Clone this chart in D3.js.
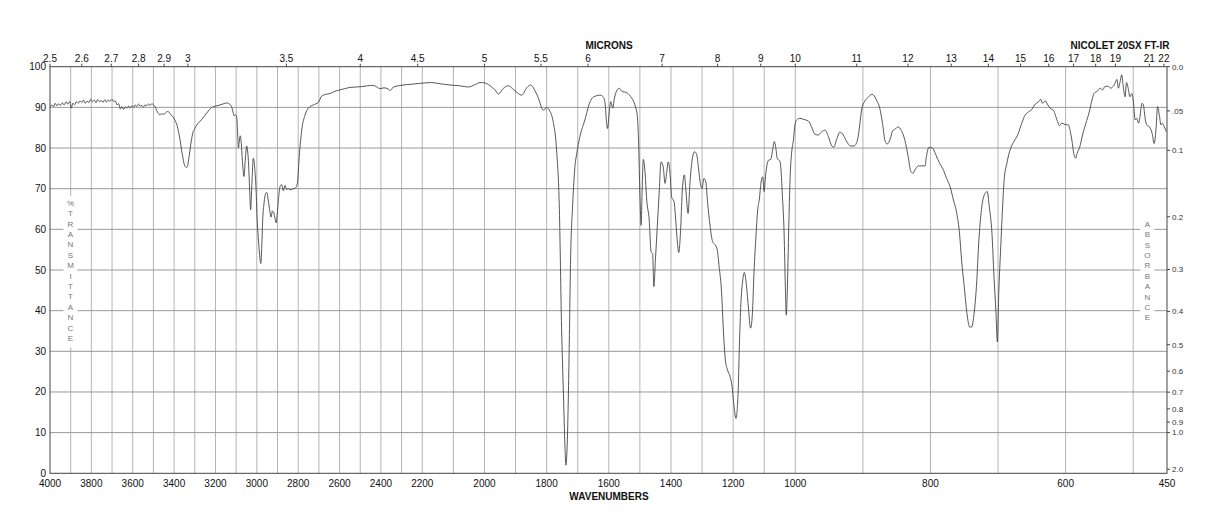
<!DOCTYPE html>
<html>
<head>
<meta charset="utf-8">
<script src="https://d3js.org/d3.v7.min.js"></script>
<style>
  body { margin: 0; background: #fff; }
  text { font-family: "Liberation Sans", Arial, sans-serif; fill: #111; }
</style>
</head>
<body>
<div id="chart"></div>
<script>
// spectrum (wavenumber cm-1 / %T)
var wavenumbers = [4000,3990,3982,3975,3966,3958,3950,3940,3932,3922,3914,3905,3897,3890,3880,3872,3863,3855,3846,3838,
  3830,3821,3812,3803,3795,3786,3778,3770,3761,3752,3744,3735,3726,3718,3710,3700,3692,3684,3676,3668,
  3660,3652,3644,3636,3628,3620,3612,3604,3596,3588,3580,3572,3564,3556,3548,3540,3532,3524,3516,3508,
  3500,3492,3484,3476,3468,3460,3450,3440,3432,3424,3416,3404,3394,3387,3378,3371,3364,3358,3352,3347,
  3340,3336,3330,3323,3316,3310,3300,3291,3280,3267,3255,3242,3230,3218,3200,3178,3160,3145,3138,3130,
  3122,3115,3109,3103,3097,3093,3089,3085,3080,3075,3070,3062,3056,3049,3045,3041,3035,3030,3024,3017,
  3010,3004,2998,2993,2987,2981,2976,2972,2965,2958,2952,2946,2940,2931,2925,2920,2913,2907,2901,2896,
  2888,2880,2872,2864,2856,2848,2840,2828,2815,2804,2795,2783,2767,2751,2727,2703,2686,2666,2646,2620,
  2598,2575,2549,2520,2493,2465,2437,2420,2405,2385,2364,2356,2348,2340,2315,2292,2250,2211,2170,2143,
  2111,2079,2052,2030,2014,1998,1977,1966,1955,1939,1923,1907,1891,1880,1864,1851,1837,1827,1811,1800,
  1789,1779,1768,1759,1752,1746,1741,1738,1734,1728,1723,1716,1709,1703,1693,1677,1660,1650,1628,1618,
  1612,1607,1604,1599,1594,1587,1583,1575,1566,1559,1542,1526,1516,1508,1504,1500,1496,1493,1489,1484,
  1478,1470,1464,1459,1455,1450,1444,1438,1432,1425,1419,1414,1409,1403,1398,1390,1384,1380,1375,1369,
  1364,1357,1352,1345,1339,1332,1324,1317,1312,1307,1300,1294,1288,1282,1274,1266,1257,1251,1245,1237,
  1232,1225,1218,1210,1204,1197,1191,1184,1180,1175,1169,1164,1159,1151,1144,1138,1133,1126,1121,1116,
  1110,1105,1100,1097,1092,1086,1079,1073,1068,1062,1058,1051,1046,1042,1036,1032,1029,1026,1021,1017,
  1012,1006,1001,998,993,987,981,976,971,966,961,956,951,946,943,939,934,929,924,918,
  913,908,905,902,897,892,887,884,880,875,871,867,864,860,856,851,848,843,838,833,
  829,826,823,818,811,808,806,802,797,792,786,782,776,771,766,761,757,754,750,746,
  742,739,736,732,728,724,719,716,713,709,706,703,701,699,696,693,691,687,683,680,
  675,670,665,660,655,650,645,640,637,634,630,627,623,618,616,612,609,606,601,596,
  593,590,588,585,583,579,575,570,565,561,558,553,549,545,542,537,533,530,527,524,
  522,519,517,515,512,510,507,505,502,500,497,495,492,490,487,485,482,480,476,472,
  469,466,464,461,459,457,454,451];
var transmittance = [90.0,90.6,90.2,91.0,90.4,90.9,90.5,91.1,90.6,91.4,90.8,91.5,89.8,91.0,90.7,91.4,91.0,91.6,91.2,91.8,
  91.0,91.5,91.2,92.0,91.4,91.8,91.1,91.9,91.4,91.7,91.2,91.9,91.3,91.8,91.5,92.0,91.4,91.6,90.6,90.9,
  89.6,90.2,89.5,90.1,89.8,90.3,89.9,90.4,90.0,90.6,90.2,90.8,90.3,90.5,90.1,90.6,90.4,90.8,90.5,90.9,
  90.6,90.2,89.2,88.5,88.2,88.4,88.3,88.7,89.0,88.8,88.2,87.6,86.6,85.8,83.8,82.0,79.5,77.8,76.2,75.5,
  75.2,75.4,77.0,79.5,82.0,83.6,84.8,85.6,86.3,87.0,87.8,88.6,89.4,90.0,90.3,90.6,90.9,91.1,91.0,90.7,
  90.2,88.8,87.9,88.2,87.5,84.0,80.0,81.5,83.0,81.0,77.0,73.0,77.0,80.5,79.5,77.0,70.0,64.8,71.0,77.5,
  75.0,70.0,62.0,58.0,54.0,51.6,56.0,62.0,66.5,68.8,69.1,67.5,65.5,63.0,64.5,64.3,63.0,61.6,64.0,67.0,
  70.5,71.0,69.5,70.8,69.8,70.0,69.7,69.9,70.1,71.3,77.9,84.4,88.1,89.8,90.6,91.2,92.8,93.2,93.4,94.0,
  94.3,94.6,94.9,95.0,95.1,95.3,95.4,95.0,94.6,94.8,94.5,94.1,94.5,95.0,95.3,95.5,95.7,95.9,96.1,95.8,
  95.5,95.3,95.0,95.6,96.1,96.0,95.0,94.3,93.3,94.7,95.3,94.4,93.4,93.0,94.8,95.5,94.0,92.4,89.3,89.9,
  89.0,86.5,79.5,64.8,36.0,19.7,6.6,2.0,6.6,27.9,52.5,66.4,75.4,78.7,82.8,86.9,91.4,92.5,93.0,92.6,
  91.0,86.0,84.8,88.5,91.4,89.8,91.8,94.0,94.7,94.0,93.6,92.2,90.6,87.7,81.0,68.8,61.0,68.8,77.2,74.6,
  67.2,62.3,54.5,54.0,45.9,52.5,60.7,68.9,76.6,75.4,71.3,73.8,76.6,73.8,68.0,66.8,61.5,57.4,54.3,59.8,
  68.9,73.4,69.7,63.9,71.3,77.0,79.1,78.3,75.4,72.1,70.1,72.5,71.7,66.4,60.7,57.0,56.1,54.9,50.8,44.3,
  36.0,27.9,25.4,23.8,21.7,16.4,13.5,19.7,31.1,41.8,47.5,49.4,47.5,40.9,35.7,39.3,49.2,59.0,64.8,67.2,
  71.7,72.9,69.3,72.1,75.4,77.0,77.2,79.5,81.6,79.7,77.3,77.0,74.6,68.9,59.0,45.9,38.9,44.3,60.7,72.1,
  78.7,82.0,85.7,86.9,87.3,87.0,86.7,85.2,83.4,83.2,84.0,84.4,82.8,80.5,80.2,82.0,83.9,83.2,81.6,80.5,
  80.5,82.0,85.2,89.3,91.6,92.5,93.2,93.0,91.8,89.8,86.1,81.6,81.0,82.0,84.2,84.8,85.2,84.3,82.0,77.9,
  74.2,73.8,74.6,75.6,75.6,75.6,77.9,80.2,80.0,78.3,76.1,75.0,72.5,70.5,67.2,63.9,59.0,52.5,45.9,39.3,
  36.0,36.0,38.5,45.9,58.2,65.6,68.9,69.3,65.6,59.0,48.4,39.3,32.3,44.0,55.7,66.4,72.1,76.2,79.1,80.5,
  82.0,83.6,86.1,88.1,88.9,89.5,90.8,91.4,92.0,91.0,91.6,90.8,89.8,89.3,88.5,86.5,85.5,86.1,85.8,85.7,
  84.0,81.1,78.7,77.5,78.7,80.3,83.2,86.1,88.9,91.8,93.4,94.0,94.7,94.3,95.1,95.2,94.7,95.1,95.9,96.9,
  94.7,96.6,98.0,95.5,92.6,96.1,94.3,92.6,93.4,91.8,86.9,87.3,86.1,87.7,91.0,90.6,86.9,85.7,85.2,83.6,
  81.1,85.2,90.2,87.7,85.7,86.1,85.2,84.0];

var wnLabels = [4000,3800,3600,3400,3200,3000,2800,2600,2400,2200,2000,1800,1600,1400,1200,1000,800,600,450];
var micronLabels = [2.5,2.6,2.7,2.8,2.9,3,3.5,4,4.5,5,5.5,6,7,8,9,10,11,12,13,14,15,16,17,18,19,21,22];
var tLabels = [0,10,20,30,40,50,60,70,80,90,100];
var absLabels = ["0.0",".05","0.1","0.2","0.3","0.4","0.5","0.6","0.7","0.8","0.9","1.0","2.0"];

var svgWidth = 1218;
var svgHeight = 528;
var plotLeft = 50, plotRight = 1167, plotTop = 66.7, plotBottom = 473.3;

var svg = d3.select("#chart")
  .append("svg")
  .attr("width", svgWidth)
  .attr("height", svgHeight);

svg.append("rect")
  .attr("width", "100%")
  .attr("height", "100%")
  .attr("fill", "#fff");

// the x axis changes pitch at 2200 and 1000 cm-1
var xScale = d3.scaleLinear()
  .domain([4000, 2200, 1000, 450])
  .range([plotLeft, 422.3, 795.3, plotRight]);
var yScale = d3.scaleLinear()
  .domain([0, 100])
  .range([plotBottom, plotTop]);

// grid
var grid = svg.append("g");
grid.selectAll("line.v")
  .data(d3.range(500, 4000, 100))
  .enter()
  .append("line")
  .attr("x1", d => xScale(d))
  .attr("x2", d => xScale(d))
  .attr("y1", plotTop)
  .attr("y2", plotBottom)
  .attr("stroke", "#b4b4b4")
  .attr("stroke-width", 1);
grid.selectAll("line.h")
  .data(d3.range(10, 100, 10))
  .enter()
  .append("line")
  .attr("x1", plotLeft)
  .attr("x2", plotRight)
  .attr("y1", d => yScale(d))
  .attr("y2", d => yScale(d))
  .attr("stroke", "#999")
  .attr("stroke-width", 1);

// stacked side titles, on white patches over the grid
function stackedLabel(word, x, yStart) {
  var letters = word.split("");
  var step = 10.4;
  svg.append("rect")
    .attr("x", x - 7)
    .attr("y", yStart - 7)
    .attr("width", 14)
    .attr("height", letters.length * step + 6)
    .attr("fill", "#fff");
  svg.append("g").selectAll("text")
    .data(letters)
    .enter()
    .append("text")
    .attr("x", x)
    .attr("y", (d, i) => yStart + i * step)
    .attr("dy", "0.35em")
    .attr("text-anchor", "middle")
    .style("font-size", "8px")
    .style("fill", "#777")
    .text(d => d);
}
stackedLabel("%TRANSMITTANCE", 70.5, 203);
stackedLabel("ABSORBANCE", 1147.3, 224);

// spectrum
var line = d3.line()
  .x(d => xScale(d[0]))
  .y(d => yScale(d[1]))
  .curve(d3.curveMonotoneX);
svg.append("path")
  .datum(d3.zip(wavenumbers, transmittance))
  .attr("d", line)
  .attr("fill", "none")
  .attr("stroke", "#444")
  .attr("stroke-width", 0.9);

// frame
svg.append("rect")
  .attr("x", plotLeft)
  .attr("y", plotTop)
  .attr("width", plotRight - plotLeft)
  .attr("height", plotBottom - plotTop)
  .attr("fill", "none")
  .attr("stroke", "#444")
  .attr("stroke-width", 1);

// left %T labels
svg.append("g").selectAll("text")
  .data(tLabels)
  .enter()
  .append("text")
  .attr("x", plotLeft - 4)
  .attr("y", d => yScale(d))
  .attr("dy", "0.35em")
  .attr("text-anchor", "end")
  .style("font-size", "10px")
  .text(d => d);

// bottom wavenumber labels
svg.append("g").selectAll("text")
  .data(wnLabels)
  .enter()
  .append("text")
  .attr("x", d => xScale(d))
  .attr("y", plotBottom + 14)
  .attr("text-anchor", "middle")
  .style("font-size", "10px")
  .text(d => d);

svg.append("text")
  .attr("x", 609)
  .attr("y", 500)
  .attr("text-anchor", "middle")
  .style("font-size", "10px")
  .style("font-weight", "bold")
  .text("WAVENUMBERS");

// top micron scale
var microns = svg.append("g");
microns.selectAll("line")
  .data(micronLabels)
  .enter()
  .append("line")
  .attr("x1", d => xScale(10000 / d))
  .attr("x2", d => xScale(10000 / d))
  .attr("y1", plotTop)
  .attr("y2", plotTop - 3)
  .attr("stroke", "#444");
microns.selectAll("text")
  .data(micronLabels)
  .enter()
  .append("text")
  .attr("x", d => xScale(10000 / d))
  .attr("y", plotTop - 5)
  .attr("text-anchor", "middle")
  .style("font-size", "10px")
  .text(d => d);

svg.append("text")
  .attr("x", 609)
  .attr("y", 48.5)
  .attr("text-anchor", "middle")
  .style("font-size", "10px")
  .style("font-weight", "bold")
  .text("MICRONS");
svg.append("text")
  .attr("x", 1120)
  .attr("y", 48.5)
  .attr("text-anchor", "middle")
  .style("font-size", "10px")
  .style("font-weight", "bold")
  .text("NICOLET 20SX FT-IR");

// right absorbance scale, A = -log10(T)
var absorb = svg.append("g");
absorb.selectAll("line")
  .data(absLabels)
  .enter()
  .append("line")
  .attr("x1", plotRight)
  .attr("x2", plotRight + 3)
  .attr("y1", d => yScale(100 * Math.pow(10, -(+d))))
  .attr("y2", d => yScale(100 * Math.pow(10, -(+d))))
  .attr("stroke", "#444");
absorb.selectAll("text")
  .data(absLabels)
  .enter()
  .append("text")
  .attr("x", plotRight + 5)
  .attr("y", d => yScale(100 * Math.pow(10, -(+d))))
  .attr("dy", "0.35em")
  .style("font-size", "8px")
  .style("fill", "#333")
  .text(d => d);
</script>
</body>
</html>
